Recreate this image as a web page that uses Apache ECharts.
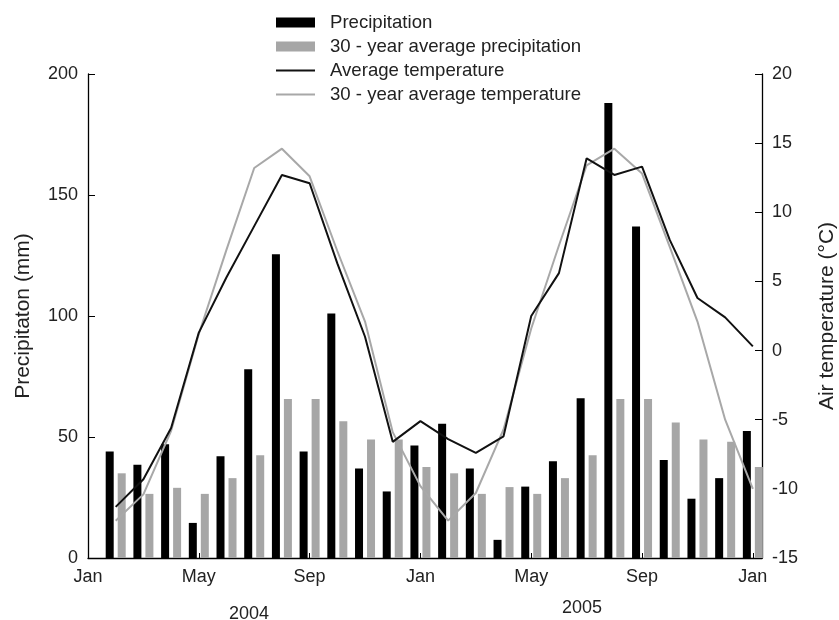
<!DOCTYPE html>
<html><head><meta charset="utf-8">
<script src="https://cdn.jsdelivr.net/npm/echarts@6/dist/echarts.min.js"></script>
<style>html,body{margin:0;padding:0;background:#fff}#c{width:839px;height:620px}</style>
</head><body><div id="c"></div>
<script>
const months = ['Jan 2004','Feb 2004','Mar 2004','Apr 2004','May 2004','Jun 2004','Jul 2004','Aug 2004','Sep 2004','Oct 2004','Nov 2004','Dec 2004',
                'Jan 2005','Feb 2005','Mar 2005','Apr 2005','May 2005','Jun 2005','Jul 2005','Aug 2005','Sep 2005','Oct 2005','Nov 2005','Dec 2005'];
const precipitation = [44, 38.5, 47, 14.5, 42, 78, 125.5, 44, 101, 37, 27.5, 46.5,
                       55.5, 37, 7.5, 29.5, 40, 66, 188, 137, 40.5, 24.5, 33, 52.5];
const precip30 = [35, 26.5, 29, 26.5, 33, 42.5, 65.7, 65.7, 56.5, 49, 49, 37.6,
                  35, 26.5, 29.3, 26.5, 33, 42.5, 65.7, 65.7, 56, 49, 48, 37.6];
const temperature = [-11.3, -9.3, -5.6, 1.3, 5.3, 9.0, 12.7, 12.1, 6.3, 1.0, -6.6, -5.1,
                     -6.4, -7.4, -6.2, 2.5, 5.6, 13.9, 12.7, 13.3, 8.0, 3.8, 2.4, 0.3];
const temp30 = [-12.3, -10.4, -5.8, 1.2, 7.3, 13.2, 14.6, 12.6, 7.2, 2.1, -5.9, -9.8,
                -12.3, -10.3, -5.7, 1.6, 7.6, 13.4, 14.6, 12.8, 7.5, 2.1, -5.0, -10.0];
const xTickLabels = ['Jan','May','Sep','Jan','May','Sep','Jan'];
const yearLabels = ['2004','2005'];

const FONT = "'Liberation Sans', Arial, Helvetica, sans-serif";
const TXT = '#222';
const LINE_ICON = 'path://M0,0 L40,0 L40,2 L0,2 Z';
const toPoints = arr => arr.map((v, i) => [i + 1, v]);

const chart = echarts.init(document.getElementById('c'));
chart.setOption({
  animation: false,
  backgroundColor: '#fff',
  textStyle: { fontFamily: FONT },
  grid: { left: 88, right: 77, top: 74, bottom: 62, containLabel: false, outerBoundsMode: 'none' },
  legend: {
    orient: 'vertical', left: 271, top: 8, itemWidth: 39, itemHeight: 10, itemGap: 5,
    textStyle: { fontSize: 18.6, color: TXT, fontFamily: FONT, padding: [0, 0, 0, 10] },
    data: [
      { name: 'Precipitation', icon: 'rect' },
      { name: '30 - year average precipitation', icon: 'rect' },
      { name: 'Average temperature', icon: LINE_ICON },
      { name: '30 - year average temperature', icon: LINE_ICON }
    ]
  },
  xAxis: {
    type: 'value', min: 0, max: 24.33, interval: 4,
    axisLine: { show: true, lineStyle: { color: '#000', width: 1.3 } },
    axisTick: { show: true, inside: true, length: 5, lineStyle: { color: '#000' } },
    splitLine: { show: false },
    axisLabel: {
      fontSize: 18, color: TXT, fontFamily: FONT, margin: 10,
      formatter: v => (Math.abs(v / 4 - Math.round(v / 4)) < 1e-6 && xTickLabels[Math.round(v / 4)]) || ''
    }
  },
  yAxis: [
    {
      type: 'value', min: 0, max: 200, interval: 50, position: 'left',
      name: 'Precipitaton (mm)', nameLocation: 'middle', nameGap: 54, nameRotate: 90,
      nameTextStyle: { fontSize: 21, color: TXT, fontFamily: FONT },
      axisLine: { show: true, lineStyle: { color: '#000', width: 1.3 } },
      axisTick: { show: true, inside: true, length: 7, lineStyle: { color: '#000' } },
      splitLine: { show: false },
      axisLabel: { fontSize: 18, color: TXT, fontFamily: FONT, margin: 10 }
    },
    {
      type: 'value', min: -15, max: 20, interval: 5, position: 'right',
      name: 'Air temperature (°C)', nameLocation: 'middle', nameGap: 55, nameRotate: 90,
      nameTextStyle: { fontSize: 21, color: TXT, fontFamily: FONT },
      axisLine: { show: true, lineStyle: { color: '#000', width: 1.3 } },
      axisTick: { show: true, inside: true, length: 7, lineStyle: { color: '#000' } },
      splitLine: { show: false },
      axisLabel: { fontSize: 18, color: TXT, fontFamily: FONT, margin: 10 }
    }
  ],
  series: [
    { name: 'Precipitation', type: 'bar', yAxisIndex: 0, data: toPoints(precipitation),
      barWidth: 8, barGap: '50%', itemStyle: { color: '#000' } },
    { name: '30 - year average precipitation', type: 'bar', yAxisIndex: 0, data: toPoints(precip30),
      barWidth: 8, barGap: '50%', itemStyle: { color: '#a6a6a6' } },
    { name: 'Average temperature', type: 'line', yAxisIndex: 1, data: toPoints(temperature),
      symbol: 'none', lineStyle: { color: '#111', width: 2 }, itemStyle: { color: '#111' }, z: 4 },
    { name: '30 - year average temperature', type: 'line', yAxisIndex: 1, data: toPoints(temp30),
      symbol: 'none', lineStyle: { color: '#a8a8a8', width: 2 }, itemStyle: { color: '#a8a8a8' }, z: 3 }
  ],
  graphic: [
    { type: 'text', left: 229, top: 605, style: { text: yearLabels[0], fontSize: 18, fill: TXT, fontFamily: FONT } },
    { type: 'text', left: 562, top: 599, style: { text: yearLabels[1], fontSize: 18, fill: TXT, fontFamily: FONT } }
  ]
});
</script></body></html>
